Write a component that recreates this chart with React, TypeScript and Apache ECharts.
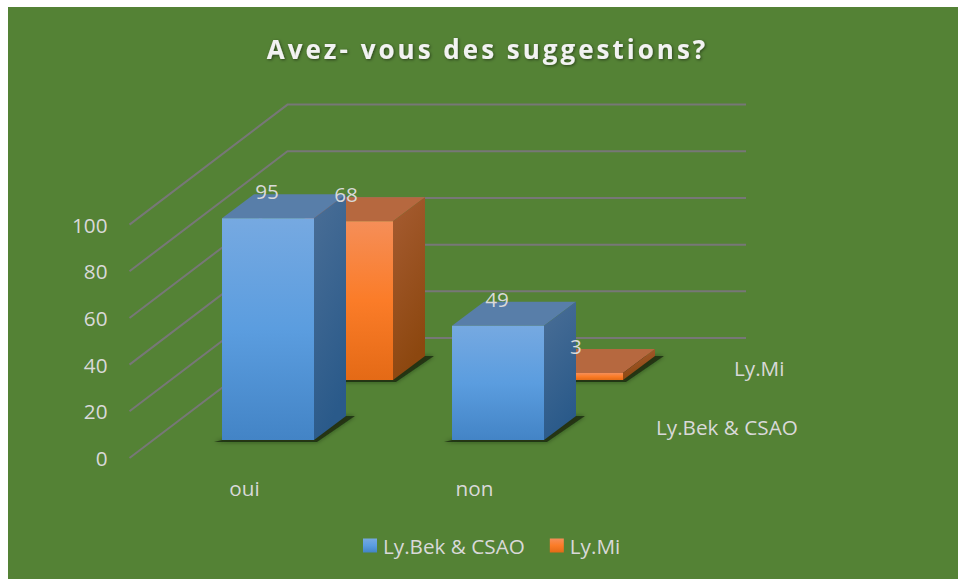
import React, { useEffect, useRef } from "react";
import * as echarts from "echarts";

const FONT = "'Open Sans'";
const categories = ["oui", "non"];
const seriesNames = ["Ly.Bek & CSAO", "Ly.Mi"];
const bekValues = [95, 49];
const miValues = [68, 3];
const gridTicks = [0, 20, 40, 60, 80, 100];
const titleText = "Avez- vous des suggestions?";

const WALL_DX = 158, WALL_DY = -120, WALL_TRIM = 1.5;
const BAR_W = 92, BAR_DX = 32, BAR_DY = -24;
const ROW = [{ dx: 23.5, dy: -18 }, { dx: 102.5, dy: -78 }];
const LABEL = "#d9d9d9";
const GRID = "#777777";
const FS = 20.7;

const grad = (c: string[], x2 = 0, y2 = 1) =>
  new echarts.graphic.LinearGradient(0, 0, x2, y2, c.map((color, i) => ({ offset: i / (c.length - 1), color })));

const palettes = [
  {
    front: ["#76a9e1", "#5b9ddf", "#4384c6"],
    side: ["#4a6e96", "#2a5a8a"],
    top: "#587ea9",
  },
  {
    front: ["#f58e58", "#fb7c28", "#e46a16"],
    side: ["#a65c32", "#8c470f"],
    top: "#b6683f",
  },
];

const barRender = (row: number) => (_p: any, api: any) => {
  const cat = api.value(0), val = api.value(1);
  const base = api.coord([cat, 0]);
  const topPt = api.coord([cat, val]);
  const o = ROW[row], pal = palettes[row];
  const x0 = base[0] + o.dx - BAR_W / 2, x1 = x0 + BAR_W;
  const yb = base[1] + o.dy, yt = topPt[1] + o.dy;
  const poly = (points: number[][], fill: any, extra: any = {}) => ({
    type: "polygon", shape: { points }, style: { fill, ...extra }, silent: true,
  });
  return {
    type: "group",
    children: [
      poly(
        [[x0 - 8, yb + 2], [x1 + 3, yb + 2], [x1 + BAR_DX + 9, yb + BAR_DY], [x1, yb + BAR_DY], [x0, yb]],
        "rgba(28,42,18,0.8)",
        { shadowBlur: 4, shadowColor: "rgba(20,30,10,0.6)" },
      ),
      poly([[x0, yt], [x1, yt], [x1 + BAR_DX, yt + BAR_DY], [x0 + BAR_DX, yt + BAR_DY]], pal.top),
      poly([[x1, yt], [x1 + BAR_DX, yt + BAR_DY], [x1 + BAR_DX, yb + BAR_DY], [x1, yb]], grad(pal.side, 0.3, 1)),
      poly([[x0, yt], [x1, yt], [x1, yb], [x0, yb]], grad(pal.front)),
    ],
  };
};

const labelRender = (_p: any, api: any) => {
  const row = api.value(2);
  const pt = api.coord([api.value(0), api.value(1)]);
  return {
    type: "text",
    silent: true,
    style: {
      text: String(api.value(1)),
      x: pt[0] + ROW[row].dx - 1,
      y: pt[1] + ROW[row].dy - 27,
      align: "center",
      verticalAlign: "middle",
      fill: LABEL,
      font: `${FS}px ${FONT}`,
    },
  };
};

const gridRender = (_p: any, api: any) => {
  const pt = api.coord([0, api.value(1)]);
  const band = api.size([1, 0])[0];
  const left = pt[0] - band / 2;
  const backX = left + WALL_DX, backY = pt[1] + WALL_DY;
  return {
    type: "polyline",
    silent: true,
    shape: { points: [[left, pt[1]], [backX, backY], [backX + band * categories.length - WALL_TRIM, backY]] },
    style: { stroke: GRID, lineWidth: 2, fill: "none" },
  };
};

export default function App() {
  const ref = useRef<HTMLDivElement>(null);
  useEffect(() => {
    const el = ref.current!;
    const chart = echarts.init(el, null, { renderer: "svg" });
    const labelRows = [
      ...bekValues.map((v, i) => [i, v, 0]),
      ...miValues.map((v, i) => [i, v, 1]),
    ];
    chart.setOption({
      animation: false,
      backgroundColor: "#ffffff",
      textStyle: { fontFamily: FONT },
      graphic: [
        { type: "rect", z: -10, silent: true, shape: { x: 8, y: 7, width: 950, height: 572 }, style: { fill: "#548235" } },
        { type: "text", z: 10, silent: true, x: 734, y: 357, style: { text: seriesNames[1], fill: LABEL, font: `${FS}px ${FONT}` } },
        { type: "text", z: 10, silent: true, x: 656, y: 416, style: { text: seriesNames[0], fill: LABEL, font: `${FS}px ${FONT}` } },
      ],
      title: {
        text: titleText,
        left: 482.5,
        top: 31,
        textAlign: "center",
        textStyle: {
          color: "#f2f2f2",
          fontSize: 26,
          fontWeight: "bold",
          fontFamily: FONT,
          textShadowBlur: 3,
          textShadowColor: "rgba(0,0,0,0.5)",
          textShadowOffsetX: 1,
          textShadowOffsetY: 1,
        },
      },
      legend: {
        data: seriesNames,
        left: 358,
        top: 530,
        icon: "rect",
        itemWidth: 14,
        itemHeight: 14,
        itemGap: 25,
        textStyle: { color: LABEL, fontSize: FS, fontFamily: FONT, padding: [0, 0, 3, 1] },
      },
      grid: { left: 129.5, width: 460, top: 224.6, height: 233.4 },
      xAxis: {
        type: "category",
        data: categories,
        axisLine: { show: false },
        axisTick: { show: false },
        axisLabel: { color: LABEL, fontSize: FS, margin: 19, fontFamily: FONT },
      },
      yAxis: {
        type: "value",
        min: 0,
        max: 100,
        interval: 20,
        axisLine: { show: false },
        axisTick: { show: false },
        splitLine: { show: false },
        axisLabel: { color: LABEL, fontSize: FS, margin: 22, fontFamily: FONT, padding: [0, 0, 4, 0] },
      },
      series: [
        { type: "custom", name: "grid", z: 1, silent: true, renderItem: gridRender, data: gridTicks.map((t) => [0, t]), encode: { x: 0, y: 1 } },
        { type: "custom", name: seriesNames[1], z: 2, silent: true, renderItem: barRender(1), itemStyle: { color: grad(palettes[1].front) }, data: miValues.map((v, i) => [i, v]), encode: { x: 0, y: 1 } },
        { type: "custom", name: seriesNames[0], z: 3, silent: true, renderItem: barRender(0), itemStyle: { color: grad(palettes[0].front) }, data: bekValues.map((v, i) => [i, v]), encode: { x: 0, y: 1 } },
        { type: "custom", name: "labels", z: 4, silent: true, renderItem: labelRender, data: labelRows, encode: { x: 0, y: 1 } },
      ],
    });
    el.querySelectorAll("text").forEach((t) => {
      if (t.textContent === titleText) (t as unknown as HTMLElement).style.letterSpacing = "3px";
    });
    return () => chart.dispose();
  }, []);
  return <div ref={ref} style={{ position: "fixed", left: 0, top: 0, width: 958, height: 579 }} />;
}
